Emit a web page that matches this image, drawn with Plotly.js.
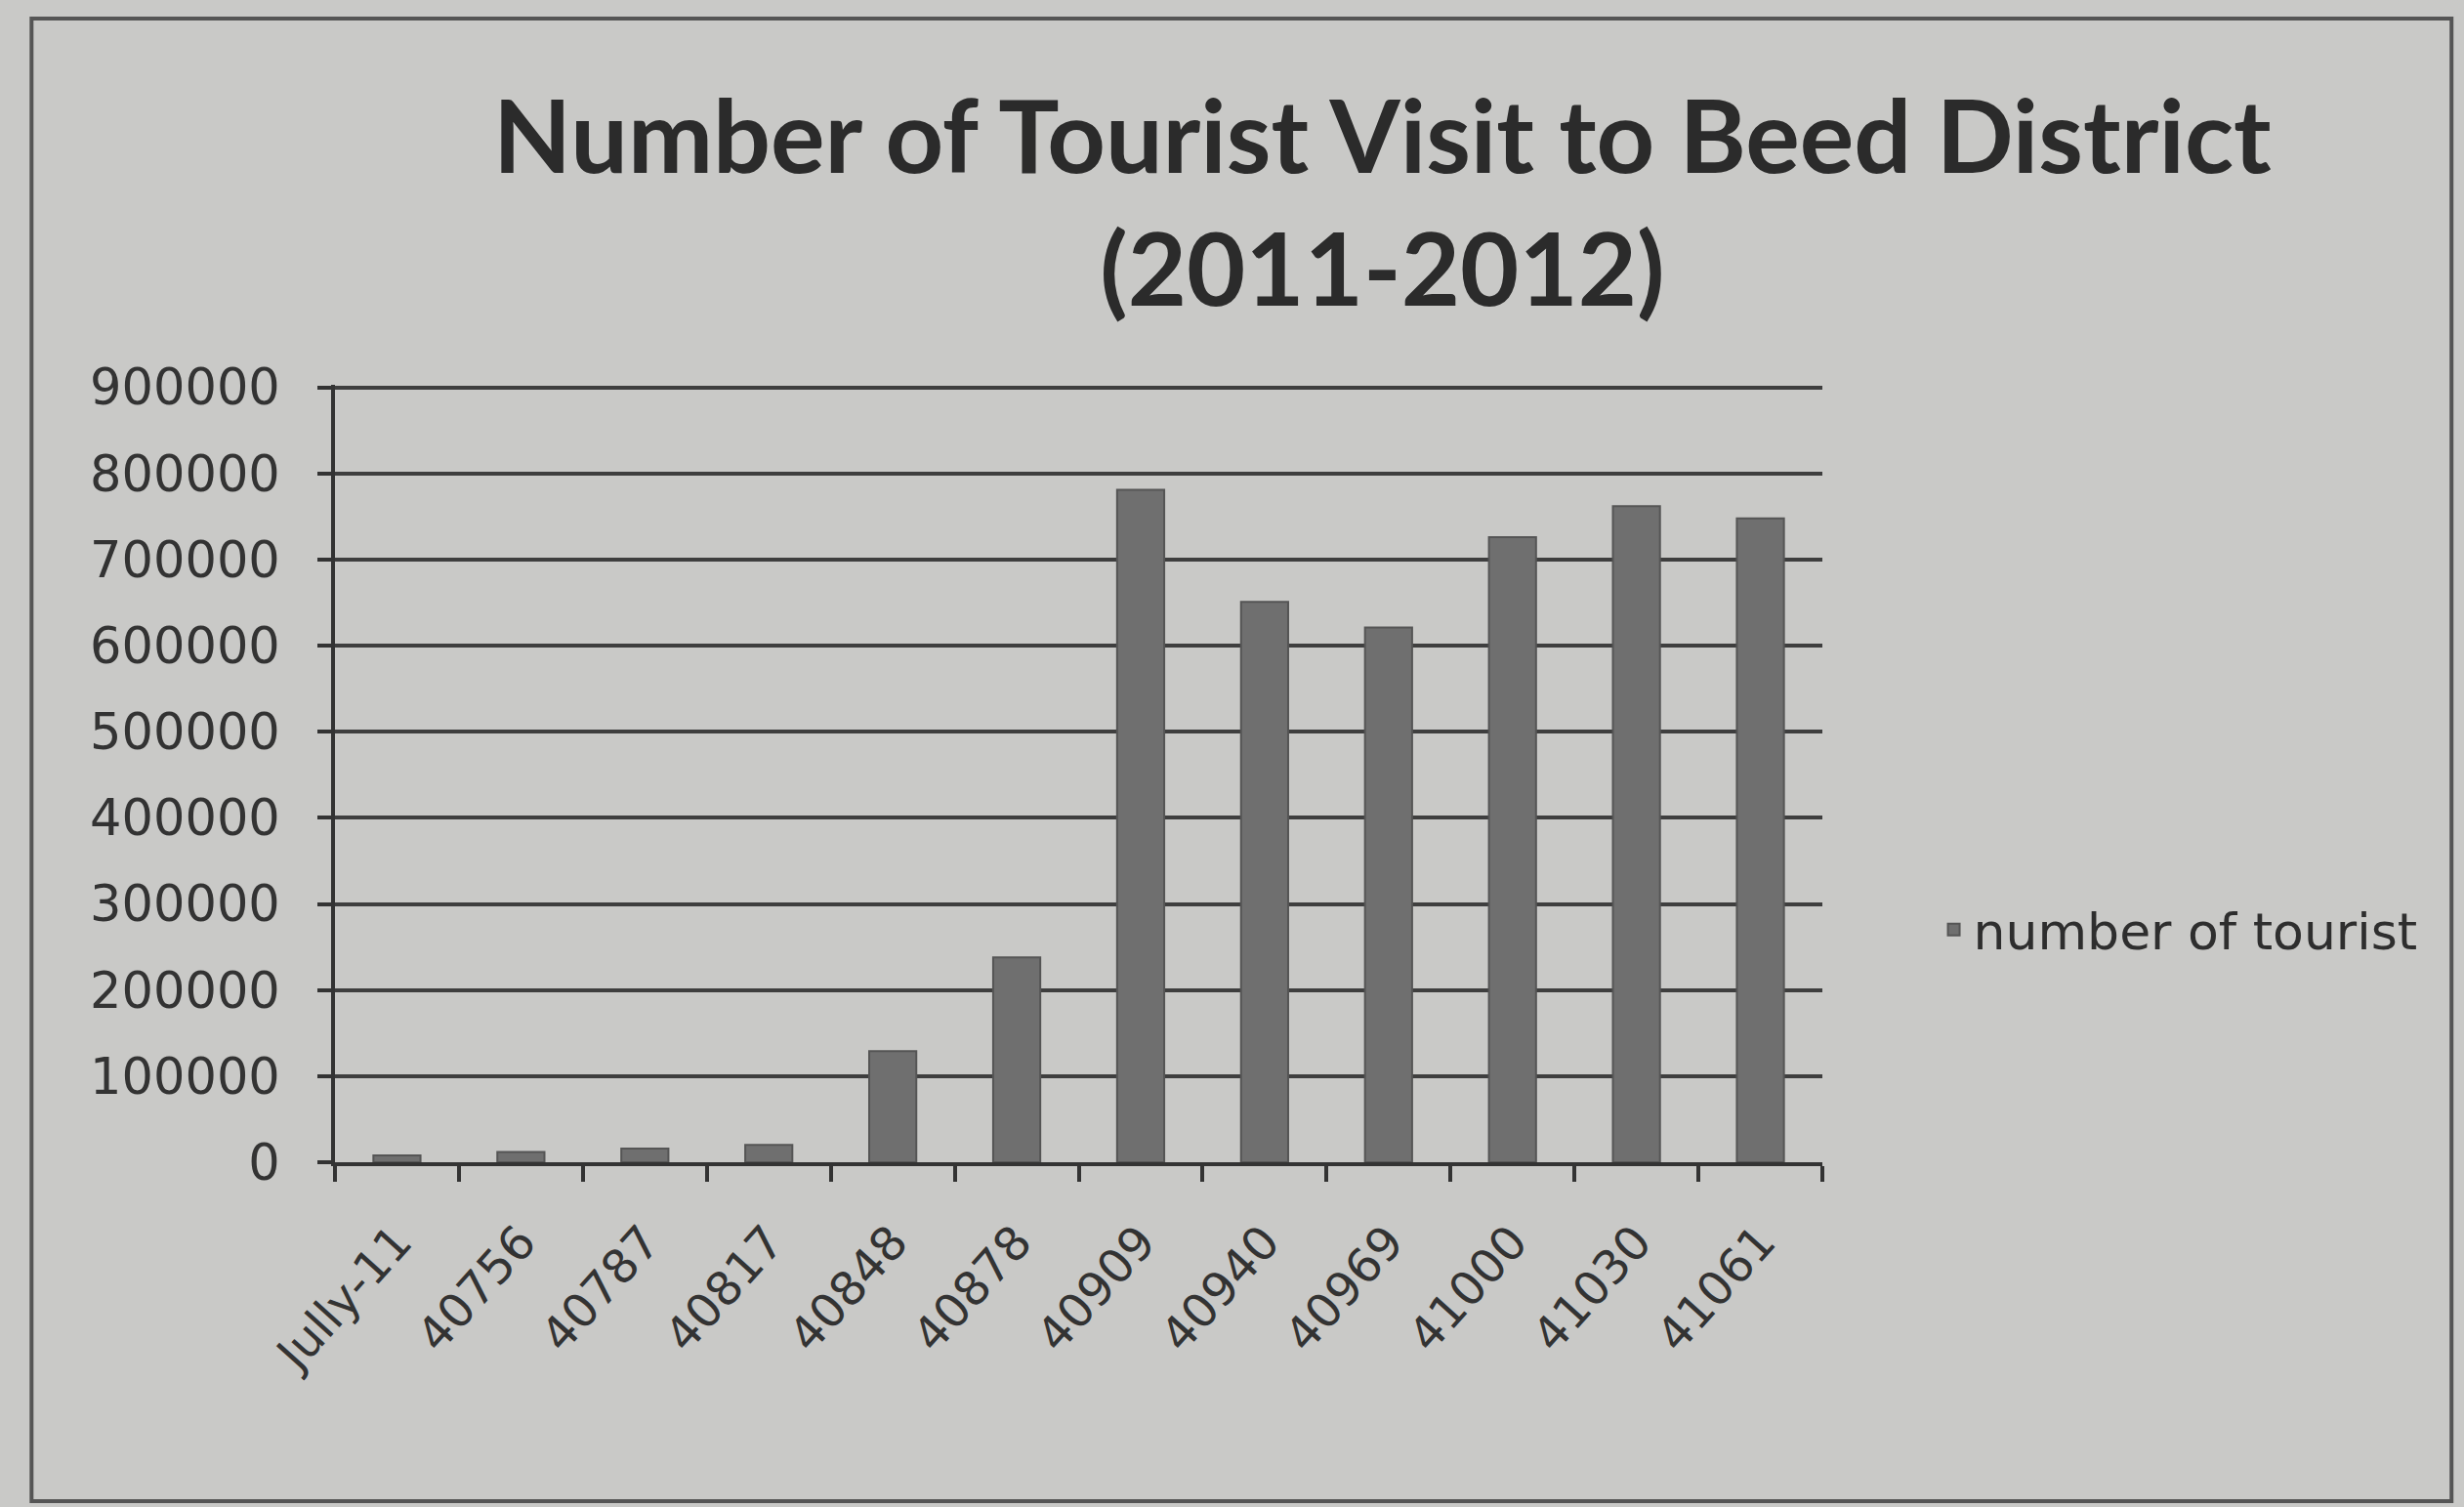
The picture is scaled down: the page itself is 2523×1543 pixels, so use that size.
<!DOCTYPE html>
<html>
<head>
<meta charset="utf-8">
<script src="https://cdn.plot.ly/plotly-3.0.1.min.js"></script>
<style>
  html, body { margin: 0; padding: 0; background: #c9c9c7; }
  #chart { width: 2523px; height: 1543px; }
</style>
</head>
<body>
<div id="chart"></div>
<script>
// Data
const categories = ["Jully-11", "40756", "40787", "40817", "40848", "40878",
                    "40909", "40940", "40969", "41000", "41030", "41061"];
const touristCounts = [8000, 12000, 16000, 20000, 129000, 238000,
                       781000, 651000, 621000, 726000, 762000, 748000];
const yTickValues = [0, 100000, 200000, 300000, 400000, 500000, 600000, 700000, 800000, 900000];
const yTickLabels = ["0", "100000", "200000", "300000", "400000", "500000", "600000", "700000", "800000", "900000"];
const seriesName = "number of tourist";
const chartTitle = "Number of Tourist Visit to Beed District<br>(2011-2012)";

const trace = {
  type: "bar",
  x: categories,
  y: touristCounts,
  name: seriesName,
  marker: { color: "#6f6f6f", line: { color: "#555555", width: 2 } },
  showlegend: true
};

const layout = {
  width: 2523,
  height: 1543,
  paper_bgcolor: "#c9c9c7",
  plot_bgcolor: "#c9c9c7",
  margin: { l: 343, r: 657, t: 394, b: 353 },
  title: {
    text: chartTitle,
    font: { family: "Lato, 'Open Sans', sans-serif", size: 104, color: "#2b2b2b", weight: "bold" },
    xref: "container", x: 0.561, xanchor: "center",
    yref: "container", y: 0.885, yanchor: "top"
  },
  bargap: 0.62,
  xaxis: {
    type: "category",
    showline: true, linecolor: "#333333", linewidth: 4,
    ticks: "outside", tickson: "boundaries", ticklen: 16, tickwidth: 4, tickcolor: "#333333",
    tickangle: -48,
    ticklabelstandoff: 30,
    tickfont: { family: "DejaVu Sans, sans-serif", size: 48, color: "#333333" },
    showgrid: false
  },
  yaxis: {
    range: [0, 903000],
    tickvals: yTickValues,
    ticktext: yTickLabels,
    showline: true, linecolor: "#333333", linewidth: 4,
    ticks: "outside", ticklen: 14, tickwidth: 4, tickcolor: "#333333",
    tickfont: { family: "DejaVu Sans, sans-serif", size: 51, color: "#333333" },
    ticklabelstandoff: 28,
    showgrid: true, gridcolor: "#3e3e3e", gridwidth: 4,
    zeroline: false
  },
  legend: {
    xref: "container", x: 0.785, xanchor: "left",
    yref: "container", y: 0.383, yanchor: "middle",
    bgcolor: "rgba(0,0,0,0)",
    font: { family: "DejaVu Sans, sans-serif", size: 52, color: "#2e2e2e" },
    itemwidth: 30
  },
  shapes: [{
    type: "rect", xref: "paper", yref: "paper",
    x0: -0.204, x1: 1.423, y0: -0.436, y1: 1.471,
    line: { color: "#555555", width: 4 }, fillcolor: "rgba(0,0,0,0)"
  }]
};

Plotly.newPlot("chart", [trace], layout, { displayModeBar: false, staticPlot: true });
</script>
</body>
</html>
